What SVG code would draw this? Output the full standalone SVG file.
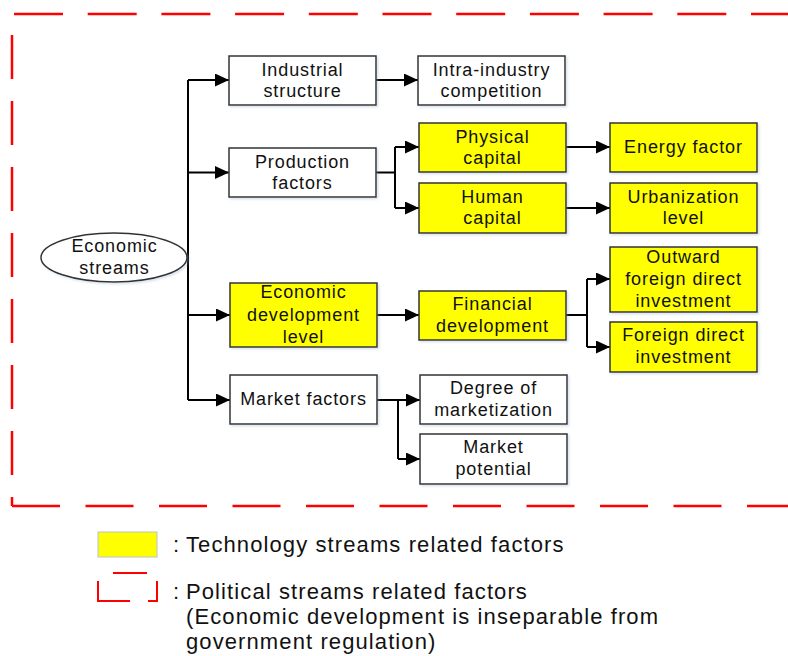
<svg xmlns="http://www.w3.org/2000/svg" width="788" height="656" viewBox="0 0 788 656">
<defs>
<marker id="arr" markerUnits="userSpaceOnUse" markerWidth="14" markerHeight="13" refX="14" refY="6.5" orient="auto">
<path d="M0,0 L14,6.5 L0,13 z" fill="#000"/>
</marker>
<filter id="sh" x="-10%" y="-10%" width="125%" height="130%">
<feDropShadow dx="1.5" dy="1.5" stdDeviation="1.2" flood-color="#8fa8c8" flood-opacity="0.35"/>
</filter>
<style>
.box{stroke:#333;stroke-width:1.5;filter:url(#sh)}
.w{fill:#fff}
.y{fill:#ffff00}
.t{font-family:"Liberation Sans",Arial,sans-serif;font-size:18px;letter-spacing:0.9px;fill:#111;text-anchor:middle}
.lg{font-family:"Liberation Sans",Arial,sans-serif;font-size:22px;letter-spacing:1.1px;fill:#111}
.c{fill:none;stroke:#000;stroke-width:2}
.red{fill:none;stroke:#ff0000;stroke-width:2.5}
</style>
</defs>
<rect width="788" height="656" fill="#fff"/>

<g id="political-border">
<path class="red" d="M14,14 H800" stroke-dasharray="49 24.7"/>
<path class="red" d="M12,35 V506" stroke-dasharray="44 22"/>
<path class="red" d="M12,506 H800" stroke-dasharray="48 25.5"/>
</g>

<g id="connectors">
<path class="c" d="M188,80 V400"/>
<path class="c" d="M188,80 H229" marker-end="url(#arr)"/>
<path class="c" d="M188,172.5 H229" marker-end="url(#arr)"/>
<path class="c" d="M188,315 H230" marker-end="url(#arr)"/>
<path class="c" d="M188,400 H230" marker-end="url(#arr)"/>
<path class="c" d="M376,80 H418" marker-end="url(#arr)"/>
<path class="c" d="M376,172.5 H395 M395,147 V208"/>
<path class="c" d="M395,147 H419" marker-end="url(#arr)"/>
<path class="c" d="M395,208 H419" marker-end="url(#arr)"/>
<path class="c" d="M566,147 H610" marker-end="url(#arr)"/>
<path class="c" d="M566,208 H610" marker-end="url(#arr)"/>
<path class="c" d="M377,315 H419" marker-end="url(#arr)"/>
<path class="c" d="M566,315 H587 M587,279 V347"/>
<path class="c" d="M587,279 H610" marker-end="url(#arr)"/>
<path class="c" d="M587,347 H610" marker-end="url(#arr)"/>
<path class="c" d="M377,400 H398 M398,400 V459"/>
<path class="c" d="M398,400 H420" marker-end="url(#arr)"/>
<path class="c" d="M398,459 H420" marker-end="url(#arr)"/>
</g>

<g id="economic-streams">
<ellipse class="box w" cx="114" cy="257.5" rx="73" ry="24.5"/>
<text class="t" x="114.5" y="252">Economic</text>
<text class="t" x="114.5" y="274">streams</text>
</g>

<g id="industrial-structure">
<rect class="box w" x="229" y="56" width="147" height="49"/>
<text class="t" x="302.5" y="76">Industrial</text>
<text class="t" x="302.5" y="97">structure</text>
</g>

<g id="production-factors">
<rect class="box w" x="229" y="148" width="147" height="49"/>
<text class="t" x="302.5" y="167.5">Production</text>
<text class="t" x="302.5" y="189">factors</text>
</g>

<g id="economic-development-level">
<rect class="box y" x="230" y="283" width="147" height="64"/>
<text class="t" x="303.5" y="298">Economic</text>
<text class="t" x="303.5" y="320.5">development</text>
<text class="t" x="303.5" y="342.5">level</text>
</g>

<g id="market-factors">
<rect class="box w" x="230" y="375" width="147" height="49"/>
<text class="t" x="303.5" y="405">Market factors</text>
</g>

<g id="intra-industry-competition">
<rect class="box w" x="418" y="56" width="147" height="49"/>
<text class="t" x="491.5" y="76">Intra-industry</text>
<text class="t" x="491.5" y="97">competition</text>
</g>

<g id="physical-capital">
<rect class="box y" x="419" y="123" width="147" height="49"/>
<text class="t" x="492.5" y="142.5">Physical</text>
<text class="t" x="492.5" y="163.5">capital</text>
</g>

<g id="human-capital">
<rect class="box y" x="419" y="183" width="147" height="50"/>
<text class="t" x="492.5" y="203">Human</text>
<text class="t" x="492.5" y="224">capital</text>
</g>

<g id="energy-factor">
<rect class="box y" x="610" y="123" width="147" height="49"/>
<text class="t" x="683.5" y="153">Energy factor</text>
</g>

<g id="urbanization-level">
<rect class="box y" x="610" y="183" width="147" height="50"/>
<text class="t" x="683.5" y="203">Urbanization</text>
<text class="t" x="683.5" y="224">level</text>
</g>

<g id="financial-development">
<rect class="box y" x="419" y="291" width="147" height="49"/>
<text class="t" x="492.5" y="310">Financial</text>
<text class="t" x="492.5" y="331.5">development</text>
</g>

<g id="outward-fdi">
<rect class="box y" x="610" y="247" width="147" height="65"/>
<text class="t" x="683.5" y="263">Outward</text>
<text class="t" x="683.5" y="285">foreign direct</text>
<text class="t" x="683.5" y="306.5">investment</text>
</g>

<g id="fdi">
<rect class="box y" x="610" y="322" width="147" height="50"/>
<text class="t" x="683.5" y="341">Foreign direct</text>
<text class="t" x="683.5" y="362.5">investment</text>
</g>

<g id="degree-of-marketization">
<rect class="box w" x="420" y="375" width="147" height="49"/>
<text class="t" x="493.5" y="394">Degree of</text>
<text class="t" x="493.5" y="415.5">marketization</text>
</g>

<g id="market-potential">
<rect class="box w" x="420" y="434" width="147" height="50"/>
<text class="t" x="493.5" y="453">Market</text>
<text class="t" x="493.5" y="475">potential</text>
</g>

<g id="legend">
<rect x="98" y="532" width="59" height="25" fill="#ffff00" stroke="#b8c4d0" stroke-width="1"/>
<text class="lg" x="173" y="552">:</text>
<text class="lg" x="186" y="552">Technology streams related factors</text>
<path fill="none" stroke="#ff0000" stroke-width="2" d="M113,573 H147 M98,581 V601 H130 M148,601 H157 V581"/>
<text class="lg" x="173" y="599">:</text>
<text class="lg" x="186" y="599">Political streams related factors</text>
<text class="lg" x="186" y="624">(Economic development is inseparable from</text>
<text class="lg" x="186" y="649">government regulation)</text>
</g>
</svg>
